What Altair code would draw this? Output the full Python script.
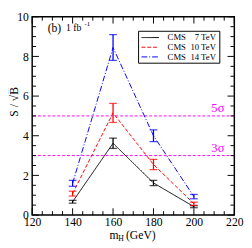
import altair as alt
import pandas as pd

# ---- data ----
masses = [140, 160, 180, 200]
series = ["CMS 7 TeV", "CMS 10 TeV", "CMS 14 TeV"]
vals_7 = [0.67, 3.62, 1.62, 0.42]
errs_7 = [0.07, 0.26, 0.13, 0.05]
vals_10 = [1.08, 5.15, 2.55, 0.57]
errs_10 = [0.12, 0.48, 0.26, 0.08]
vals_14 = [1.60, 8.45, 4.00, 0.93]
errs_14 = [0.15, 0.65, 0.30, 0.11]

sigma_levels = [3, 5]
sigma_labels = ["3σ", "5σ"]

x_major = [120, 140, 160, 180, 200, 220]
x_minor = [125, 130, 135, 145, 150, 155, 165, 170, 175, 185, 190, 195, 205, 210, 215]
y_major = [0, 2, 4, 6, 8, 10]
y_minor = [0.5, 1, 1.5, 2.5, 3, 3.5, 4.5, 5, 5.5, 6.5, 7, 7.5, 8.5, 9, 9.5]

colors = ["#000000", "#ff0000", "#0000ff"]
dashes = [[1, 0], [4, 2], [6, 2, 1, 2]]
magenta = "#ff00ff"
FONT = "Liberation Serif"

W, H = 209, 205

rows = []
for s, v, e in zip(series, [vals_7, vals_10, vals_14], [errs_7, errs_10, errs_14]):
    for m, vv, ee in zip(masses, v, e):
        rows.append({"series": s, "x": m, "y": vv, "lo": vv - ee, "hi": vv + ee})
df = pd.DataFrame(rows)

xscale = alt.Scale(domain=[120, 220], nice=False, zero=False)
yscale = alt.Scale(domain=[0, 10], nice=False)
xaxis = alt.Axis(values=x_major, ticks=False, domain=False, grid=False, title=None,
                 labelFont=FONT, labelFontSize=12, labelColor="black", labelPadding=2,
                 labelFlush=False)
yaxis = alt.Axis(values=y_major, ticks=False, domain=False, grid=False, title=None,
                 labelFont=FONT, labelFontSize=12, labelColor="black", labelPadding=4)


def X(field="x"):
    return alt.X(f"{field}:Q", scale=xscale, axis=xaxis)


def Y(field="y"):
    return alt.Y(f"{field}:Q", scale=yscale, axis=yaxis)


col = alt.Color("series:N", scale=alt.Scale(domain=series, range=colors), legend=None)
dash = alt.StrokeDash("series:N", scale=alt.Scale(domain=series, range=dashes), legend=None)

lines = alt.Chart(df).mark_line(strokeWidth=1).encode(x=X(), y=Y(), color=col, strokeDash=dash,
                                                      detail="series:N")
ebars = alt.Chart(df).mark_rule(strokeWidth=1.3).encode(x=X(), y=Y("lo"), y2="hi:Q", color=col)
caps_hi = alt.Chart(df).mark_tick(orient="horizontal", size=8, thickness=1.3).encode(
    x=X(), y=Y("hi"), color=col)
caps_lo = alt.Chart(df).mark_tick(orient="horizontal", size=8, thickness=1.3).encode(
    x=X(), y=Y("lo"), color=col)

sig_df = pd.DataFrame({"y": sigma_levels, "t": sigma_labels})
sig_lines = alt.Chart(sig_df).mark_rule(color=magenta, strokeDash=[3, 2], strokeWidth=1).encode(y=Y())
sig_text = alt.Chart(sig_df).mark_text(color=magenta, font=FONT, fontSize=13, dy=-8).encode(
    y=Y(), x=alt.value(W - 17), text="t:N")

# ticks (inward, on all four sides)
xmaj = pd.DataFrame({"x": x_major})
xmin = pd.DataFrame({"x": x_minor})
ymaj = pd.DataFrame({"y": y_major})
ymin = pd.DataFrame({"y": y_minor})
tk = dict(color="black", strokeWidth=1)
ticks = [
    alt.Chart(xmaj).mark_rule(**tk).encode(x=X(), y=alt.value(H), y2=alt.value(H - 7)),
    alt.Chart(xmaj).mark_rule(**tk).encode(x=X(), y=alt.value(0), y2=alt.value(7)),
    alt.Chart(xmin).mark_rule(**tk).encode(x=X(), y=alt.value(H), y2=alt.value(H - 4)),
    alt.Chart(xmin).mark_rule(**tk).encode(x=X(), y=alt.value(0), y2=alt.value(4)),
    alt.Chart(ymaj).mark_rule(**tk).encode(y=Y(), x=alt.value(0), x2=alt.value(7)),
    alt.Chart(ymaj).mark_rule(**tk).encode(y=Y(), x=alt.value(W), x2=alt.value(W - 7)),
    alt.Chart(ymin).mark_rule(**tk).encode(y=Y(), x=alt.value(0), x2=alt.value(4)),
    alt.Chart(ymin).mark_rule(**tk).encode(y=Y(), x=alt.value(W), x2=alt.value(W - 4)),
]

# legend (manual box)
leg_box = alt.Chart(pd.DataFrame({"a": [0]})).mark_rect(
    fill="white", stroke="black", strokeWidth=1).encode(
    x=alt.value(110), x2=alt.value(194), y=alt.value(15), y2=alt.value(48))
leg_layers = [leg_box]
row_y = [21.5, 31.5, 41.5]
parts = [("CMS", "7 TeV"), ("CMS", "10 TeV"), ("CMS", "14 TeV")]
for i, s in enumerate(series):
    leg_layers.append(alt.Chart(pd.DataFrame({"a": [0]})).mark_rule(
        color=colors[i], strokeDash=dashes[i], strokeWidth=1).encode(
        x=alt.value(113), x2=alt.value(131), y=alt.value(row_y[i])))
    leg_layers.append(alt.Chart(pd.DataFrame({"t": [parts[i][0]]})).mark_text(
        font=FONT, fontSize=9, align="left", baseline="middle").encode(
        x=alt.value(140), y=alt.value(row_y[i]), text="t:N"))
    leg_layers.append(alt.Chart(pd.DataFrame({"t": [parts[i][1]]})).mark_text(
        font=FONT, fontSize=9, align="right", baseline="middle").encode(
        x=alt.value(190), y=alt.value(row_y[i]), text="t:N"))

# annotations / titles
def txt(t, x, y, size=12, align="left", angle=0, baseline="middle"):
    return alt.Chart(pd.DataFrame({"t": [t]})).mark_text(
        font=FONT, fontSize=size, align=align, baseline=baseline, angle=angle, color="black").encode(
        x=alt.value(x), y=alt.value(y), text="t:N")

annots = [
    txt("(b)", 16, 12, 12),
    txt("1 fb", 35, 12, 10),
    txt("-1", 54, 8, 7),
    txt("S / √B̅", -19, 88, 12, align="center", angle=270),
    txt("m", 80, 226, 12),
    txt("H", 89, 230, 8),
    txt("(GeV)", 97, 226, 12),
]

chart = alt.layer(
    sig_lines, lines, ebars, caps_hi, caps_lo, sig_text, *ticks, *leg_layers, *annots
).properties(
    width=W, height=H,
    padding={"left": 25, "top": 5, "right": 10, "bottom": 30},
    autosize=alt.AutoSizeParams(type="none"),
).configure_view(stroke="black", strokeWidth=1.5)

chart.save("out.html", embed_options={"renderer": "svg", "actions": False})
